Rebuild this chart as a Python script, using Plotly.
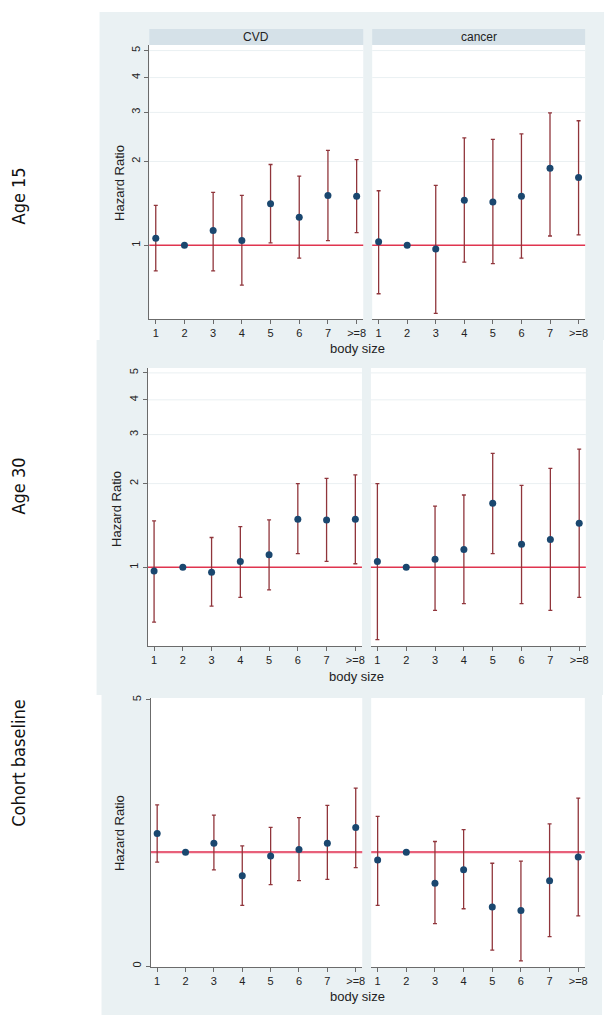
import plotly.graph_objects as go

# ---------------- data ----------------
body_size = [1, 2, 3, 4, 5, 6, 7, 8]
x_tick_labels = ["1", "2", "3", "4", "5", "6", "7", ">=8"]
outcomes = ["CVD", "cancer"]
row_labels = ["Age 15", "Age 30", "Cohort baseline"]

age15_cvd_hr = [1.06, 1.00, 1.13, 1.04, 1.41, 1.26, 1.51, 1.50]
age15_cvd_lo = [0.81, None, 0.81, 0.72, 1.02, 0.90, 1.04, 1.11]
age15_cvd_hi = [1.39, None, 1.55, 1.51, 1.95, 1.77, 2.19, 2.03]
age15_can_hr = [1.03, 1.00, 0.97, 1.45, 1.43, 1.50, 1.89, 1.75]
age15_can_lo = [0.67, None, 0.57, 0.87, 0.86, 0.90, 1.08, 1.09]
age15_can_hi = [1.57, None, 1.64, 2.43, 2.40, 2.51, 2.99, 2.80]

age30_cvd_hr = [0.97, 1.00, 0.96, 1.05, 1.11, 1.49, 1.48, 1.49]
age30_cvd_lo = [0.635, None, 0.725, 0.78, 0.83, 1.12, 1.05, 1.03]
age30_cvd_hi = [1.47, None, 1.28, 1.40, 1.48, 2.00, 2.09, 2.15]
age30_can_hr = [1.05, 1.00, 1.07, 1.16, 1.70, 1.21, 1.26, 1.44]
age30_can_lo = [0.55, None, 0.70, 0.74, 1.12, 0.74, 0.70, 0.78]
age30_can_hi = [2.00, None, 1.66, 1.82, 2.57, 1.97, 2.27, 2.66]

base_cvd_hr = [1.22, 1.00, 1.10, 0.78, 0.96, 1.03, 1.10, 1.30]
base_cvd_lo = [0.90, None, 0.83, 0.57, 0.71, 0.74, 0.75, 0.85]
base_cvd_hi = [1.65, None, 1.48, 1.07, 1.30, 1.44, 1.64, 1.97]
base_can_hr = [0.92, 1.00, 0.72, 0.83, 0.56, 0.54, 0.74, 0.95]
base_can_lo = [0.57, None, 0.47, 0.55, 0.355, 0.317, 0.41, 0.51]
base_can_hi = [1.46, None, 1.12, 1.27, 0.89, 0.91, 1.35, 1.77]

ref_hr = 1.0
y_ticks_top = [1, 2, 3, 4, 5]
y_tick_labels_top = ["1", "2", "3", "4", "5"]
y_ticks_base = [0.3, 5]
y_tick_labels_base = ["0", "5"]

# ---------------- layout geometry (pixels of the 616x1025 window) ----------------
WIN_W, WIN_H = 616, 1025
OFF = 8  # default page body margin
W, H = WIN_W - OFF, WIN_H - OFF

def px(v):
    return (v - OFF) / W

def py(v):
    return 1 - (v - OFF) / H

NAVY = "#1A476F"
MAROON = "#90353B"
REFRED = "#E0344F"
REFRED_BASE = "#E8607A"
OUTER = "#EAF1F3"
STRIP = "#D5E1E8"
AXCOL = "#6B6B6B"
GRID = "#EAF0F2"
FONT = "Arial, Liberation Sans, sans-serif"

rows = [
    dict(data=[(age15_cvd_hr, age15_cvd_lo, age15_cvd_hi), (age15_can_hr, age15_can_lo, age15_can_hi)],
         xs=[(150, 365), (374, 588)], ys=(42, 317), yr=(-0.2649, 0.7194),
         ticks=y_ticks_top, ticktext=y_tick_labels_top, grid=True,
         bg=(100, 9, 607, 338), strip=(26, 42), ht=(120, 180), bs=(359, 346), lab=(19, 193),
         refw=1.5, refc=REFRED),
    dict(data=[(age30_cvd_hr, age30_cvd_lo, age30_cvd_hi), (age30_can_hr, age30_can_lo, age30_can_hi)],
         xs=[(148.3, 363.7), (372.7, 588.7)], ys=(366, 645), yr=(-0.2832, 0.7168),
         ticks=y_ticks_top, ticktext=y_tick_labels_top, grid=True,
         bg=(97, 338, 606, 694), strip=None, ht=(117, 507), bs=(358, 675), lab=(19, 484),
         refw=1.5, refc=REFRED),
    dict(data=[(base_cvd_hr, base_cvd_lo, base_cvd_hi), (base_can_hr, base_can_lo, base_can_hi)],
         xs=[(151.5, 364), (373, 587.7)], ys=(697, 967), yr=(-0.5277, 0.708),
         ticks=y_ticks_base, ticktext=y_tick_labels_base, grid=False,
         bg=(102, 694, 605, 1015), strip=None, ht=(120, 832), bs=(359, 996), lab=(19, 762),
         refw=2.2, refc=REFRED_BASE),
]

fig = go.Figure()
shapes = []
annotations = []
layout = {}

for r in rows:
    x0, y0, x1, y1 = r["bg"]
    shapes.append(dict(type="rect", xref="paper", yref="paper", x0=px(x0), x1=px(x1),
                       y0=py(y1), y1=py(y0), fillcolor=OUTER, line=dict(width=0), layer="below"))

idx = 0
for ri, r in enumerate(rows):
    for ci in range(2):
        idx += 1
        xa = "xaxis" if idx == 1 else f"xaxis{idx}"
        ya = "yaxis" if idx == 1 else f"yaxis{idx}"
        xr = "x" if idx == 1 else f"x{idx}"
        yr_ = "y" if idx == 1 else f"y{idx}"
        xl, xh = r["xs"][ci]
        yt, yb = r["ys"]
        shapes.append(dict(type="rect", xref="paper", yref="paper", x0=px(xl), x1=px(xh),
                           y0=py(yb), y1=py(yt), fillcolor="white", line=dict(width=0), layer="below"))
        if r["strip"] is not None:
            s0, s1 = r["strip"]
            shapes.append(dict(type="rect", xref="paper", yref="paper", x0=px(xl), x1=px(xh),
                               y0=py(s1), y1=py(s0), fillcolor=STRIP, line=dict(width=0), layer="below"))
            annotations.append(dict(xref="paper", yref="paper", x=px((xl + xh) / 2), y=py((s0 + s1) / 2),
                                    text=outcomes[ci], showarrow=False, xanchor="center", yanchor="middle",
                                    font=dict(family=FONT, size=12, color="#222")))
        layout[xa] = dict(domain=[px(xl), px(xh)], anchor=yr_, range=[0.775, 8.23],
                          tickmode="array", tickvals=body_size, ticktext=x_tick_labels,
                          showline=True, linecolor=AXCOL, linewidth=1, ticks="outside", ticklen=4,
                          tickcolor=AXCOL, showgrid=False, zeroline=False,
                          tickfont=dict(family=FONT, size=11, color="#222"), fixedrange=True)
        layout[ya] = dict(domain=[py(yb), py(yt)], anchor=xr, type="log", range=list(r["yr"]),
                          tickmode="array", tickvals=r["ticks"], ticktext=r["ticktext"],
                          showgrid=False, zeroline=False,
                          showline=(ci == 0), linecolor=AXCOL, linewidth=1,
                          ticks="outside" if ci == 0 else "", ticklen=4, tickcolor=AXCOL,
                          showticklabels=(ci == 0), tickangle=-90,
                          tickfont=dict(family=FONT, size=11, color="#222"), fixedrange=True)
        # light grid lines at the tick values other than the reference value
        if r["grid"]:
            for t in r["ticks"]:
                if t != ref_hr:
                    shapes.append(dict(type="line", xref=f"{xr} domain", yref=yr_, x0=0, x1=1, y0=t, y1=t,
                                       line=dict(color=GRID, width=1), layer="below"))
        shapes.append(dict(type="line", xref=f"{xr} domain", yref=yr_, x0=0, x1=1, y0=ref_hr, y1=ref_hr,
                           line=dict(color=r["refc"], width=r["refw"]), layer="below"))
        hr, lo, hi = r["data"][ci]
        plus = [(h - v) if h is not None else 0 for v, h in zip(hr, hi)]
        minus = [(v - l) if l is not None else 0 for v, l in zip(hr, lo)]
        fig.add_trace(go.Scatter(x=body_size, y=hr, mode="markers", xaxis=xr, yaxis=yr_,
                                 marker=dict(color=NAVY, size=7),
                                 error_y=dict(type="data", symmetric=False, array=plus, arrayminus=minus,
                                              color=MAROON, thickness=1.3, width=2),
                                 showlegend=False, hoverinfo="skip"))
    hx, hy = r["ht"]
    annotations.append(dict(xref="paper", yref="paper", x=px(hx), y=py(hy), text="Hazard Ratio",
                            textangle=-90, showarrow=False, xanchor="center", yanchor="middle",
                            font=dict(family=FONT, size=13, color="#222")))
    bx, by = r["bs"]
    annotations.append(dict(xref="paper", yref="paper", x=px(bx), y=py(by), text="body size",
                            showarrow=False, xanchor="center", yanchor="middle",
                            font=dict(family=FONT, size=13, color="#222")))
    lx, ly = r["lab"]
    annotations.append(dict(xref="paper", yref="paper", x=px(lx), y=py(ly), text=row_labels[ri],
                            textangle=-90, showarrow=False, xanchor="center", yanchor="middle",
                            font=dict(family="Liberation Sans Narrow, DejaVu Sans Condensed, sans-serif",
                                      size=18, color="#111")))

fig.update_layout(width=W, height=H, margin=dict(l=0, r=0, t=0, b=0),
                  paper_bgcolor="white", plot_bgcolor="white",
                  shapes=shapes, annotations=annotations, **layout)

fig.write_html("out.html")
